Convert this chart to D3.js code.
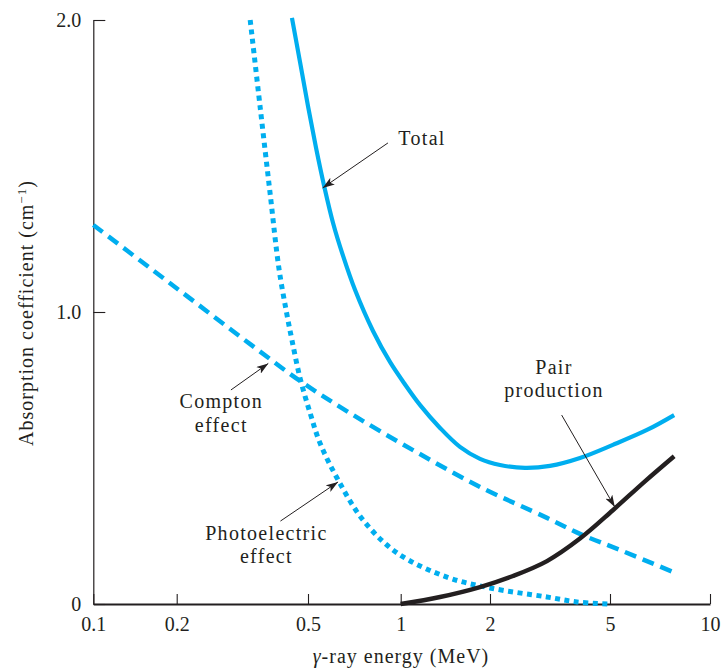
<!DOCTYPE html>
<html>
<head>
<meta charset="utf-8">
<script src="https://cdn.jsdelivr.net/npm/d3@7"></script>
<style>
  html, body { margin: 0; padding: 0; background: #fff; }
  svg { display: block; }
  text { font-family: "Liberation Serif", "Times New Roman", serif; fill: #231f20; }
</style>
</head>
<body>
<svg id="chart" width="725" height="670"></svg>
<script>
// ---- Data ----
const xTicks = [0.1, 0.2, 0.5, 1, 2, 5, 10];
const xTickLabels = ["0.1", "0.2", "0.5", "1", "2", "5", "10"];
const yTicks = [0, 1, 2];
const yTickLabels = ["0", "1.0", "2.0"];

// Total absorption coefficient
const totalE  = [0.447, 0.473, 0.5, 0.531, 0.564, 0.603, 0.650, 0.711, 0.813, 0.923, 1.026, 1.161, 1.357, 1.584, 1.851, 2.159, 2.613, 3.162, 3.976, 5.1, 6.46, 7.8];
const totalMu = [2.007, 1.856, 1.705, 1.562, 1.432, 1.305, 1.192, 1.075, 0.935, 0.829, 0.757, 0.682, 0.603, 0.538, 0.497, 0.476, 0.466, 0.473, 0.500, 0.545, 0.596, 0.647];

// Compton effect
const comptonE  = [0.1, 0.160, 0.235, 0.334, 0.473, 0.684, 1.100, 1.851, 3.09, 3.976, 5.359, 7.8];
const comptonMu = [1.298, 1.151, 1.021, 0.890, 0.764, 0.654, 0.527, 0.401, 0.295, 0.240, 0.185, 0.108];

// Photoelectric effect
const photoE  = [0.334, 0.358, 0.384, 0.408, 0.429, 0.447, 0.473, 0.508, 0.547, 0.626, 0.754, 0.973, 1.432, 2.0, 3.09, 3.886, 4.92];
const photoMu = [2.0, 1.702, 1.404, 1.151, 1.007, 0.904, 0.774, 0.654, 0.551, 0.425, 0.288, 0.175, 0.092, 0.055, 0.024, 0.007, 0.0];

// Pair production
const pairE  = [1.0, 1.357, 1.851, 2.385, 3.09, 3.976, 5.1, 6.37, 7.8];
const pairMu = [0.0, 0.024, 0.058, 0.096, 0.147, 0.224, 0.321, 0.420, 0.506];

// Annotations (data coordinates)
const annotations = [
  { lines: ["Total"], x: 1.18, y: [1.572], from: [0.909, 1.579], to: [0.558, 1.425] },
  { lines: ["Compton", "effect"], x: 0.273, y: [0.671, 0.589], from: [0.292, 0.733], to: [0.379, 0.824] },
  { lines: ["Photoelectric", "effect"], x: 0.374, y: [0.219, 0.140], from: [0.4125, 0.284], to: [0.626, 0.418] },
  { lines: ["Pair", "production"], x: 3.26, y: [0.788, 0.709], from: [3.457, 0.647], to: [5.17, 0.332] }
];

// ---- Layout ----
const svg = d3.select("#chart");
const blue = "#00aeef";
const ink = "#231f20";

const x = d3.scaleLog()
  .domain(xTicks)
  .range([93.3, 176.7, 308, 400.7, 490, 610, 710]);
const y = d3.scaleLinear().domain([0, 2]).range([604, 20]);

// Axes
const xAxis = d3.axisBottom(x)
  .tickValues(xTicks)
  .tickFormat((d, i) => xTickLabels[i])
  .tickSizeInner(-10)
  .tickSizeOuter(0)
  .tickPadding(13);
const gx = svg.append("g").attr("transform", "translate(0,604)").call(xAxis);
gx.select(".domain").attr("stroke", ink).attr("stroke-width", 2.2);
gx.selectAll(".tick line").attr("stroke", ink).attr("stroke-width", 1.1);
gx.selectAll(".tick text").attr("font-family", "Liberation Serif").attr("font-size", 20).attr("fill", ink);

const yAxis = d3.axisLeft(y)
  .tickValues(yTicks)
  .tickFormat((d, i) => yTickLabels[i])
  .tickSizeInner(-12)
  .tickSizeOuter(0)
  .tickPadding(12);
const gy = svg.append("g").attr("transform", "translate(93.3,0)").call(yAxis);
gy.select(".domain").attr("stroke", ink).attr("stroke-width", 1.2);
gy.selectAll(".tick line").attr("stroke", ink).attr("stroke-width", 1.1);
gy.selectAll(".tick text").attr("font-family", "Liberation Serif").attr("font-size", 20).attr("fill", ink);

// Axis titles
svg.append("text")
  .attr("x", 401).attr("y", 663)
  .attr("text-anchor", "middle")
  .attr("font-size", 20)
  .attr("letter-spacing", 1)
  .html('<tspan font-style="italic">γ</tspan>-ray energy (MeV)');

svg.append("text")
  .attr("transform", "translate(33,313) rotate(-90)")
  .attr("text-anchor", "middle")
  .attr("font-size", 20)
  .attr("letter-spacing", 1)
  .html('Absorption coefficient (cm<tspan dy="-7" font-size="13">−1</tspan><tspan dy="7">)</tspan>');

// Curves
const line = d3.line()
  .x(d => x(d[0]))
  .y(d => y(d[1]))
  .curve(d3.curveCatmullRom.alpha(0.5));

function series(E, M) { return E.map((e, i) => [e, M[i]]); }

svg.append("path")
  .attr("d", line(series(comptonE, comptonMu)))
  .attr("fill", "none").attr("stroke", blue).attr("stroke-width", 4.5)
  .attr("stroke-dasharray", "12,7");

svg.append("path")
  .attr("d", line(series(photoE, photoMu)))
  .attr("fill", "none").attr("stroke", blue).attr("stroke-width", 5)
  .attr("stroke-dasharray", "5,4.5");

svg.append("path")
  .attr("d", line(series(totalE, totalMu)))
  .attr("fill", "none").attr("stroke", blue).attr("stroke-width", 4.2);

svg.append("path")
  .attr("d", line(series(pairE, pairMu)))
  .attr("fill", "none").attr("stroke", ink).attr("stroke-width", 4.4);

// Arrow marker
svg.append("defs").append("marker")
  .attr("id", "arrow")
  .attr("viewBox", "0 0 12 8")
  .attr("refX", 12).attr("refY", 4)
  .attr("markerWidth", 12).attr("markerHeight", 8)
  .attr("markerUnits", "userSpaceOnUse")
  .attr("orient", "auto")
  .append("path")
  .attr("d", "M0,0 L12,4 L0,8 L3,4 Z")
  .attr("fill", ink);

// Annotations
annotations.forEach(a => {
  a.lines.forEach((t, i) => {
    svg.append("text")
      .attr("x", x(a.x)).attr("y", y(a.y[i]))
      .attr("text-anchor", "middle")
      .attr("font-size", 20)
      .attr("letter-spacing", 1.3)
      .text(t);
  });
  svg.append("line")
    .attr("x1", x(a.from[0])).attr("y1", y(a.from[1]))
    .attr("x2", x(a.to[0])).attr("y2", y(a.to[1]))
    .attr("stroke", ink).attr("stroke-width", 1)
    .attr("marker-end", "url(#arrow)");
});
</script>
</body>
</html>
